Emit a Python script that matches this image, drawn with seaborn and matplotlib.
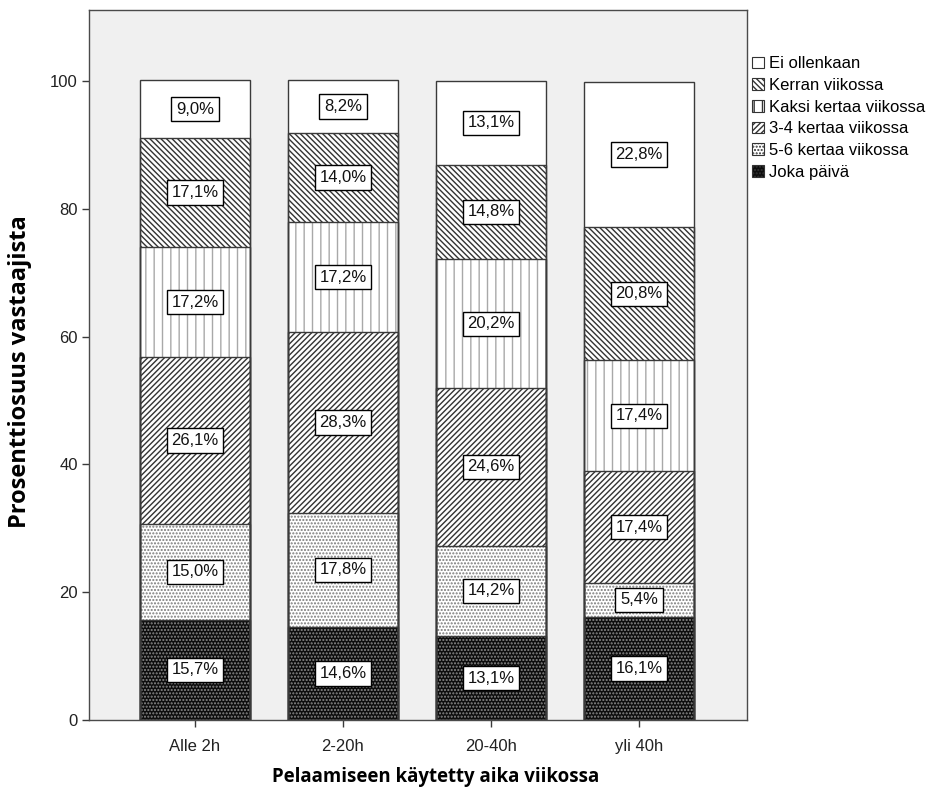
import numpy as np
import pandas as pd
import matplotlib
matplotlib.use("Agg")
import matplotlib.pyplot as plt
from matplotlib.patches import Patch
import seaborn as sns

# Weekly gaming time groups (x axis)
groups = ["Alle 2h", "2-20h", "20-40h", "yli 40h"]

# Response categories, bottom of the stack first
categories = ["Joka päivä", "5-6 kertaa viikossa", "3-4 kertaa viikossa",
              "Kaksi kertaa viikossa", "Kerran viikossa", "Ei ollenkaan"]

# Percentages per category, one value per group
joka_paiva = [15.7, 14.6, 13.1, 16.1]
kertaa_5_6 = [15.0, 17.8, 14.2, 5.4]
kertaa_3_4 = [26.1, 28.3, 24.6, 17.4]
kaksi_kertaa = [17.2, 17.2, 20.2, 17.4]
kerran = [17.1, 14.0, 14.8, 20.8]
ei_ollenkaan = [9.0, 8.2, 13.1, 22.8]

series = [joka_paiva, kertaa_5_6, kertaa_3_4, kaksi_kertaa, kerran, ei_ollenkaan]

# Fill / hatch styling per category (same order as categories)
styles = {
    "Joka päivä": dict(fc="#0d0d0d", hc="#8a8a8a", hatch="....."),
    "5-6 kertaa viikossa": dict(fc="white", hc="#7a7a7a", hatch="....."),
    "3-4 kertaa viikossa": dict(fc="white", hc="#333333", hatch="//////"),
    "Kaksi kertaa viikossa": dict(fc="white", hc="#a8a8a8", hatch="||"),
    "Kerran viikossa": dict(fc="white", hc="#333333", hatch="\\\\\\\\\\\\"),
    "Ei ollenkaan": dict(fc="white", hc="white", hatch=None),
}

plt.rcParams["font.family"] = ["Liberation Sans", "DejaVu Sans"]
plt.rcParams["hatch.linewidth"] = 1.0

rows = []
for cat, vals in zip(categories, series):
    for g, v in zip(groups, vals):
        rows.append(dict(group=g, category=cat, value=v))
df = pd.DataFrame(rows)
df["category"] = pd.Categorical(df["category"], categories, ordered=True)
df = df.sort_values(["group", "category"])
df["top"] = df.groupby("group", sort=False)["value"].cumsum()
df["mid"] = df["top"] - df["value"] / 2

fig = plt.figure(figsize=(9.44, 7.94), dpi=100)
ax = fig.add_axes([89 / 944, 1 - 720 / 794, (747 - 89) / 944, (720 - 10) / 794])
ax.set_facecolor("#f0f0f0")

width = 0.745
# Draw cumulative tops from the highest layer down, each one covering the part below
for cat in categories[::-1]:
    sub = df[df["category"] == cat]
    st = styles[cat]
    sns.barplot(data=sub, x="group", y="top", order=groups, color=st["fc"],
                saturation=1, width=width, hatch=st["hatch"], edgecolor=st["hc"],
                linewidth=0, errorbar=None, ax=ax, zorder=2)
# Segment outlines
for cat in categories[::-1]:
    sub = df[df["category"] == cat]
    sns.barplot(data=sub, x="group", y="top", order=groups, fill=False,
                width=width, edgecolor="#3a3a3a", linewidth=1.0,
                errorbar=None, ax=ax, zorder=3)

# Value labels
xpos = {g: i for i, g in enumerate(groups)}
for _, r in df.iterrows():
    txt = f"{r['value']:.1f}".replace(".", ",") + "%"
    ax.text(xpos[r["group"]], r["mid"], txt, ha="center", va="center",
            fontsize=12, color="#111111", zorder=5,
            bbox=dict(boxstyle="square,pad=0.28", fc="white", ec="black", lw=1.0))

ax.set_xlim(-0.716, 3.73)
ax.set_ylim(0, 111.1)
ax.set_yticks([0, 20, 40, 60, 80, 100])
ax.tick_params(axis="both", length=5, width=1, color="#3a3a3a",
               labelsize=12, labelcolor="#222222", pad=3)
ax.tick_params(axis="x", pad=9)
for s in ax.spines.values():
    s.set_color("#4a4a4a")
    s.set_linewidth(1.0)

label_font = ["Open Sans", "Liberation Sans", "DejaVu Sans"]
ax.set_xlabel("Pelaamiseen käytetty aika viikossa", fontsize=13.4,
              fontweight="bold", family=label_font)
ax.set_ylabel("Prosenttiosuus vastaajista", fontsize=17,
              fontweight="bold", family=label_font)
ax.xaxis.set_label_coords(0.527, -0.066)
ax.yaxis.set_label_coords(-0.087, 0.49)

handles = []
for cat in categories[::-1]:
    st = styles[cat]
    handles.append(Patch(facecolor=st["fc"], edgecolor=st["hc"],
                         hatch=st["hatch"], linewidth=0))
legend_labels = ["Ei ollenkaan", "Kerran viikossa", "Kaksi kertaa viikossa",
                 "3-4 kertaa viikossa", "5-6 kertaa viikossa", "Joka päivä"]
leg = fig.legend(handles, legend_labels, loc="upper left",
                 bbox_to_anchor=(749 / 944, 1 - 53 / 794), frameon=False,
                 fontsize=12, handlelength=0.72, handleheight=0.72,
                 handletextpad=0.3, labelspacing=0.4, borderpad=0.2,
                 borderaxespad=0)
for h in leg.legend_handles:
    h.set_linewidth(0.8)
    h.set_edgecolor("#333333")

fig.savefig("out.png", dpi=100, facecolor="white")
